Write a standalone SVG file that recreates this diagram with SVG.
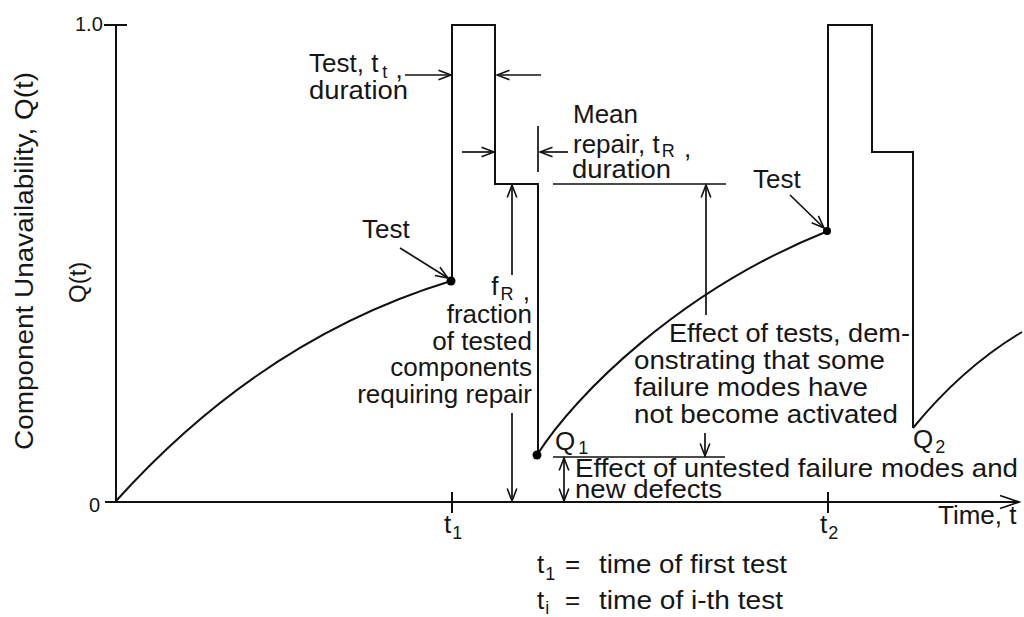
<svg xmlns="http://www.w3.org/2000/svg" width="1024" height="617" viewBox="0 0 1024 617">
  <defs>
    <style>
      .ln{fill:none;stroke:#111;stroke-width:2;stroke-linejoin:miter}
      .dim{fill:none;stroke:#111;stroke-width:1.7}
      .dot{fill:#000}
      text{font-family:"Liberation Sans",Arial,Helvetica,sans-serif;font-size:26px;fill:#161616}
      .sub{font-size:18px}
      .small{font-size:20px}
    </style>
    <marker id="ah" markerUnits="userSpaceOnUse" viewBox="0 0 16 12" markerWidth="16" markerHeight="12" refX="13.5" refY="6" orient="auto-start-reverse">
      <path d="M1,1.2 L13.5,6 L1,10.8" fill="none" stroke="#111" stroke-width="1.6"/>
    </marker>
    <marker id="axh" markerUnits="userSpaceOnUse" viewBox="0 0 22 16" markerWidth="22" markerHeight="16" refX="20" refY="8" orient="auto">
      <path d="M1,1.5 L20,8 L1,14.5" fill="none" stroke="#111" stroke-width="1.8"/>
    </marker>
  </defs>
  <rect width="1024" height="617" fill="#fff"/>

  <!-- axes and tick marks -->
  <g id="axes">
    <path class="ln" d="M116,25 V502"/>
    <path class="ln" d="M104,25 H127"/>
    <path class="ln" d="M105,502 H1019" marker-end="url(#axh)"/>
    <path class="ln" d="M452,492 V513"/>
    <path class="ln" d="M828,492 V513"/>
    <text x="75" y="31" class="small">1.0</text>
    <text x="89" y="512" class="small">0</text>
    <text transform="translate(33,450) rotate(-90)" textLength="378" lengthAdjust="spacingAndGlyphs">Component Unavailability, Q(t)</text>
    <text transform="translate(86,303) rotate(-90)" style="font-size:24px">Q(t)</text>
    <text x="938" y="524">Time, t</text>
    <text x="444" y="533">t<tspan class="sub" dy="6" dx="1">1</tspan></text>
    <text x="820" y="533">t<tspan class="sub" dy="6" dx="1">2</tspan></text>
  </g>

  <!-- unavailability trace: ageing curves and test/repair pulses -->
  <g id="trace">
    <path class="ln" d="M116,501 C180,430 290,330 451,281"/>
    <path class="ln" d="M452,281 V25 H495 V184 H538 V455"/>
    <path class="ln" d="M537,455 C575,395 680,290 828,231"/>
    <path class="ln" d="M828,231 V25 H872 V152 H913 V428"/>
    <path class="ln" d="M913,428 C940,395 975,360 1022,332"/>
    <circle class="dot" cx="451" cy="281" r="4.5"/>
    <circle class="dot" cx="537" cy="455" r="4.5"/>
    <circle class="dot" cx="827" cy="231" r="4"/>
  </g>

  <!-- dimension lines and pointers -->
  <g id="connectors">
    <path class="dim" d="M405,75 H451" marker-end="url(#ah)"/>
    <path class="dim" d="M541,75 H497" marker-end="url(#ah)"/>
    <path class="dim" d="M462,152 H494" marker-end="url(#ah)"/>
    <path class="dim" d="M568,152 H540" marker-end="url(#ah)"/>
    <path class="dim" d="M538,126 V172"/>
    <path class="dim" d="M512,275 V185" marker-end="url(#ah)"/>
    <path class="dim" d="M512,413 V501" marker-end="url(#ah)"/>
    <path class="dim" d="M553,184 H726"/>
    <path class="dim" d="M706,315 V185" marker-end="url(#ah)"/>
    <path class="dim" d="M553,457 H725"/>
    <path class="dim" d="M705,433 V456" marker-end="url(#ah)"/>
    <path class="dim" d="M564,458 V501" marker-start="url(#ah)" marker-end="url(#ah)"/>
    <path class="dim" d="M400,248 L448,278" marker-end="url(#ah)"/>
    <path class="dim" d="M790,195 L824,228" marker-end="url(#ah)"/>
  </g>

  <g id="label-test-duration">
    <text x="309" y="72">Test, t<tspan class="sub" dy="6" dx="4">t</tspan><tspan dx="1"> ,</tspan></text>
    <text x="309" y="99" textLength="99" lengthAdjust="spacingAndGlyphs">duration</text>
  </g>

  <g id="label-test-1">
    <text x="362" y="238">Test</text>
  </g>

  <g id="label-test-2">
    <text x="753" y="188">Test</text>
  </g>

  <g id="label-repair-duration">
    <text x="573" y="123">Mean</text>
    <text x="573" y="153">repair, t<tspan class="sub" dy="4" dx="2">R</tspan><tspan dx="2"> ,</tspan></text>
    <text x="572" y="178" textLength="99" lengthAdjust="spacingAndGlyphs">duration</text>
  </g>

  <g id="label-repair-fraction" text-anchor="end">
    <text x="530" y="295">f<tspan class="sub" dy="5" dx="2">R</tspan><tspan dx="2"> ,</tspan></text>
    <text x="532" y="323">fraction</text>
    <text x="532" y="350">of tested</text>
    <text x="532" y="376">components</text>
    <text x="532" y="403">requiring repair</text>
  </g>

  <g id="label-test-effect">
    <text x="669" y="342" textLength="241" lengthAdjust="spacingAndGlyphs">Effect of tests, dem-</text>
    <text x="634" y="369" textLength="251" lengthAdjust="spacingAndGlyphs">onstrating that some</text>
    <text x="634" y="396" textLength="234" lengthAdjust="spacingAndGlyphs">failure modes have</text>
    <text x="634" y="423" textLength="264" lengthAdjust="spacingAndGlyphs">not become activated</text>
  </g>

  <g id="label-q1">
    <text x="555" y="450">Q<tspan class="sub" dy="4" dx="3">1</tspan></text>
  </g>

  <g id="label-q2">
    <text x="913" y="448">Q<tspan class="sub" dy="5" dx="2">2</tspan></text>
  </g>

  <g id="label-untested">
    <text x="575" y="477" textLength="443" lengthAdjust="spacingAndGlyphs">Effect of untested failure modes and</text>
    <text x="575" y="498" textLength="147" lengthAdjust="spacingAndGlyphs">new defects</text>
  </g>

  <g id="legend">
    <text x="537" y="573">t<tspan class="sub" dy="7" dx="1">1</tspan><tspan dy="-7" x="565">=</tspan><tspan x="599" textLength="188" lengthAdjust="spacingAndGlyphs">time of first test</tspan></text>
    <text x="537" y="609">t<tspan class="sub" dy="5" dx="1">i</tspan><tspan dy="-5" x="565">=</tspan><tspan x="599" textLength="184" lengthAdjust="spacingAndGlyphs">time of i-th test</tspan></text>
  </g>
</svg>
